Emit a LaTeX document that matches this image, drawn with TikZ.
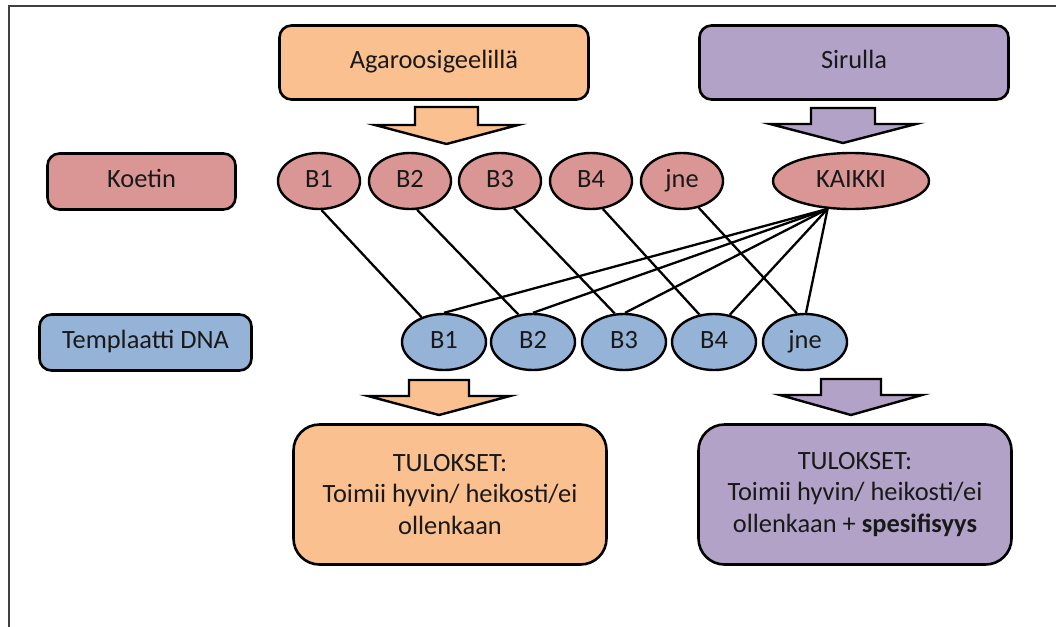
\documentclass[tikz,border=0pt]{standalone}
\usepackage{fontspec}
\setmainfont{Carlito}
\usetikzlibrary{shapes.geometric}
\definecolor{orangeF}{HTML}{FAC090}
\definecolor{purpleF}{HTML}{B3A2C7}
\definecolor{redF}{HTML}{D99694}
\definecolor{blueF}{HTML}{95B3D7}
\definecolor{frameC}{HTML}{404040}
\begin{document}
\begin{tikzpicture}[x=1pt,y=-1pt,
  txt/.style={font=\fontsize{26.4}{31.5}\selectfont, text=black!90},
  box/.style={txt, draw=black, line width=2.6pt, rounded corners=12pt, align=center, inner sep=0pt},
  bigbox/.style={box, rounded corners=26pt, minimum width=313pt, minimum height=140pt},
  topbox/.style={box, minimum width=309pt, minimum height=74pt, text height=18pt, text depth=6pt},
  ell/.style={txt, ellipse, draw=black, line width=2.4pt, inner sep=0pt, text height=18pt, text depth=6pt},
  redell/.style={ell, fill=redF, minimum width=82pt, minimum height=56pt},
  blueell/.style={ell, fill=blueF, minimum width=84pt, minimum height=56pt},
  blockarrow/.style={draw=black, line width=2.4pt, line join=miter},
  conn/.style={draw=black, line width=2.3pt}
]
\useasboundingbox (0,0) rectangle (1056,626);
\draw[frameC, line width=2pt] (9,630) -- (9,6) -- (1060,6);

% top boxes
\node[topbox, fill=orangeF] (agar) at (434,62.5) {Agaroosigeelillä};
\node[topbox, fill=purpleF] (siru) at (854,62.5) {Sirulla};

% row labels
\node[box, fill=redF, minimum width=188pt, minimum height=56pt, text height=18pt, text depth=6pt] (koetin) at (141.5,181.5) {Koetin};
\node[box, fill=blueF, minimum width=212pt, minimum height=56pt, text height=18pt, text depth=6pt] (templ) at (145.5,342.5) {Templaatti DNA};

% top block arrows
\draw[blockarrow, fill=orangeF] (415,107) -- (478,107) -- (478,125) -- (518,125) -- (446.5,144) -- (375,125) -- (415,125) -- cycle;
\draw[blockarrow, fill=purpleF] (811,108) -- (875,108) -- (875,124) -- (916,124) -- (843,143) -- (770,124) -- (811,124) -- cycle;

% probe ellipses
\node[redell] (kB1) at (319,181) {B1};
\node[redell] (kB2) at (410,181) {B2};
\node[redell] (kB3) at (500,181) {B3};
\node[redell] (kB4) at (591,181) {B4};
\node[redell] (kjne) at (682,181) {jne};
\node[ell, fill=redF, minimum width=156pt, minimum height=56pt] (kaikki) at (851,181) {KAIKKI};

% template ellipses
\node[blueell] (tB1) at (444,342) {B1};
\node[blueell] (tB2) at (533,342) {B2};
\node[blueell] (tB3) at (624,342) {B3};
\node[blueell] (tB4) at (714,342) {B4};
\node[blueell] (tjne) at (805,342) {jne};

% connectors
\coordinate (kp) at (kaikki.-130);
\draw[conn] (kB1.-85) -- (tB1.132);
\draw[conn] (kB2.-76) -- (tB2.118);
\draw[conn] (kB3.-63) -- (tB3.108);
\draw[conn] (kB4.-67) -- (tB4.118);
\draw[conn] (kjne.-58) -- (tjne.106);
\draw[conn] (kp) -- (tB1.90);
\draw[conn] (kp) -- (tB2.90);
\draw[conn] (kp) -- (tB3.88);
\draw[conn] (kp) -- (tB4.60);
\draw[conn] (kp) -- (tjne.88);

% bottom block arrows
\draw[blockarrow, fill=orangeF] (409,380) -- (469,380) -- (469,396) -- (510,396) -- (439,415) -- (368,396) -- (409,396) -- cycle;
\draw[blockarrow, fill=purpleF] (821,379) -- (881,379) -- (881,395) -- (922,395) -- (851,415) -- (780,395) -- (821,395) -- cycle;

% result boxes
\node[bigbox, fill=orangeF] (resA) at (450,494.5) {TULOKSET:\\Toimii hyvin/ heikosti/ei\\ollenkaan};
\node[bigbox, fill=purpleF] (resB) at (855,494.5) {TULOKSET:\\Toimii hyvin/ heikosti/ei\\ollenkaan + \textbf{spesifisyys}};
\end{tikzpicture}
\end{document}
